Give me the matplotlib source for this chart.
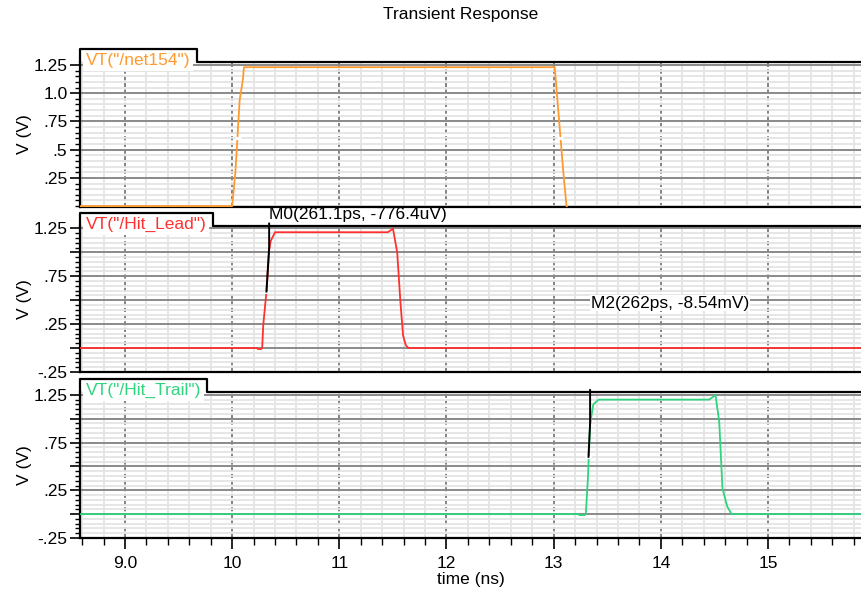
import matplotlib
matplotlib.use("Agg")
import matplotlib.pyplot as plt
from matplotlib.lines import Line2D
from matplotlib.ticker import MultipleLocator
import matplotlib.transforms as mtransforms

plt.rcParams['font.family'] = ['Liberation Sans', 'DejaVu Sans']

# ---- data (time in ns, voltage in V) ----
net154_t = [8.58, 10.00, 10.03, 10.05, 10.07, 10.10, 10.11, 13.01, 13.03,
            13.06, 13.09, 13.12, 13.14, 15.9]
net154_v = [0.0, 0.0, 0.30, 0.62, 0.94, 1.12, 1.23, 1.23, 1.00,
            0.65, 0.30, 0.0, -0.04, -0.04]

lead_t = [8.58, 10.23, 10.24, 10.27, 10.28, 10.29, 10.32, 10.345, 10.36,
          10.40, 11.45, 11.48, 11.50, 11.54, 11.57, 11.595, 11.62, 11.645, 15.9]
lead_v = [0.0, 0.0, -0.01, -0.01, 0.0, 0.24, 0.59, 1.02, 1.12,
          1.21, 1.21, 1.23, 1.25, 1.00, 0.48, 0.13, 0.03, 0.0, 0.0]

trail_t = [8.58, 13.23, 13.24, 13.29, 13.30, 13.32, 13.34, 13.37, 13.42,
           14.45, 14.49, 14.51, 14.545, 14.575, 14.62, 14.66, 15.9]
trail_v = [0.0, 0.0, -0.01, -0.01, 0.0, 0.38, 0.94, 1.15, 1.20,
           1.20, 1.23, 1.25, 0.97, 0.27, 0.08, 0.0, 0.0]

# marker traces (M0 on Hit_Lead, M2 on Hit_Trail)
m0_t = [10.32, 10.345, 10.345]
m0_v = [0.59, 1.05, 1.30]
m2_t = [13.325, 13.34, 13.34]
m2_v = [0.60, 0.95, 1.30]
m0_label = "M0(261.1ps, -776.4uV)"
m2_label = "M2(262ps, -8.54mV)"

# 50% crossing points shown as small white gaps
cross_net154 = ([10.05, 13.06], [0.60, 0.60])
cross_lead = ([10.32], [0.59])
cross_trail = ([13.325], [0.60])

x_ticks = [9, 10, 11, 12, 13, 14, 15]
x_ticklabels = ["9.0", "10", "11", "12", "13", "14", "15"]

top_yticks = [0.25, 0.5, 0.75, 1.0, 1.25]
top_yticklabels = [".25", ".5", ".75", "1.0", "1.25"]
low_yticks = [-0.25, 0.0, 0.25, 0.5, 0.75, 1.0, 1.25]
low_yticklabels = ["-.25", "", ".25", "", ".75", "", "1.25"]

ORANGE = '#ff9a2e'
RED = '#ff3030'
GREEN = '#2ed47e'
FS = 12.5

W, H = 861, 590
fig = plt.figure(figsize=(W / 100, H / 100), dpi=100)


def px_axes(top, bottom, left=80, right=861):
    # axes rectangle from pixel edges (y measured from the top)
    return [left / W, 1 - bottom / H, (right - left) / W, (bottom - top) / H]


ax_top = fig.add_axes(px_axes(62, 207))
ax_mid = fig.add_axes(px_axes(226, 372))
ax_bot = fig.add_axes(px_axes(392, 538))

panels = [
    (ax_top, net154_t, net154_v, ORANGE, 'VT("/net154")', (-0.008, 1.276),
     top_yticks, top_yticklabels, cross_net154),
    (ax_mid, lead_t, lead_v, RED, 'VT("/Hit_Lead")', (-0.25, 1.275),
     low_yticks, low_yticklabels, cross_lead),
    (ax_bot, trail_t, trail_v, GREEN, 'VT("/Hit_Trail")', (-0.25, 1.28),
     low_yticks, low_yticklabels, cross_trail),
]

labels = []
for ax, t, v, color, name, ylim, yt, ytl, cross in panels:
    ax.set_xlim(8.58, 15.868)
    ax.set_ylim(*ylim)
    ax.set_xticks(x_ticks)
    ax.xaxis.set_minor_locator(MultipleLocator(0.2))
    ax.set_yticks(yt)
    ax.set_yticklabels(ytl, fontsize=FS)
    ax.yaxis.set_minor_locator(MultipleLocator(0.05))

    # grid: light minor lines, dark major lines (dashed verticals)
    ax.grid(which='minor', axis='both', color='#e4e4e4', lw=1.3, zorder=0)
    ax.grid(which='major', axis='y', color='#8a8a8a', lw=1.4, zorder=0.5)
    ax.grid(which='major', axis='x', color='#6e6e6e', lw=1.2,
            linestyle=(0, (2.5, 1.5)), zorder=0.5)
    ax.set_axisbelow(True)

    ax.plot(t, v, color=color, lw=1.3, zorder=3)
    ax.plot(cross[0], cross[1], linestyle='none', marker='_', ms=5,
            mew=2.2, color='white', zorder=4)

    for side in ('top', 'right'):
        ax.spines[side].set_visible(False)
    for side in ('left', 'bottom'):
        ax.spines[side].set_linewidth(1.6)
        ax.spines[side].set_color('black')

    ax.tick_params(axis='y', which='major', direction='out', length=7,
                   width=1.2, pad=2)
    ax.tick_params(axis='y', which='minor', direction='out', length=3.5,
                   width=1.0)
    ax.set_ylabel("V (V)", fontsize=FS)
    ax.yaxis.set_label_coords(-48 / (W - 80), 0.5)

    txt_tf = mtransforms.offset_copy(ax.transAxes, fig=fig, x=6, y=-3,
                                     units='dots')
    lab = ax.text(0, 1, name, transform=txt_tf, color=color, fontsize=FS,
                  ha='left', va='baseline', zorder=6,
                  bbox=dict(boxstyle='square,pad=0.15', fc='white',
                            ec='none'))
    labels.append((ax, lab))

for ax in (ax_top, ax_mid):
    ax.tick_params(axis='x', which='both', bottom=False, labelbottom=False)

ax_bot.set_xticklabels(x_ticklabels, fontsize=FS)
ax_bot.tick_params(axis='x', which='major', direction='out', length=8,
                   width=1.2, pad=5)
ax_bot.tick_params(axis='x', which='minor', direction='out', length=5,
                   width=1.0)
ax_bot.set_xlabel("time (ns)", fontsize=FS, labelpad=1)

# markers
ax_mid.plot(m0_t, m0_v, color='black', lw=1.4, zorder=5, clip_on=False)
ax_bot.plot(m2_t, m2_v, color='black', lw=1.4, zorder=5, clip_on=False)
m0_tf = mtransforms.blended_transform_factory(ax_mid.transData,
                                              ax_mid.transAxes)
m0_tf = mtransforms.offset_copy(m0_tf, fig=fig, x=0, y=4, units='dots')
ax_mid.text(10.345, 1.0, m0_label, transform=m0_tf, fontsize=FS,
            ha='left', va='bottom', zorder=7)
ax_mid.text(13.345, 0.47, m2_label, fontsize=FS, ha='left', va='center',
            zorder=7, bbox=dict(boxstyle='square,pad=0.05', fc='white',
                                ec='none'))

fig.text(461 / W, 1 - 15 / H, "Transient Response", fontsize=FS,
         ha='center', va='center')

# header tabs: left spine goes up, across, down, then the top border
fig.canvas.draw()
inv = fig.transFigure.inverted()
for ax, lab in labels:
    bb = lab.get_window_extent()
    x0, x1 = ax.bbox.x0, ax.bbox.x1
    y1 = ax.bbox.y1
    xr = bb.x1 + 6
    pts = [(x0, y1), (x0, y1 + 13.5), (xr, y1 + 13.5), (xr, y1), (x1, y1)]
    fpts = inv.transform(pts)
    fig.add_artist(Line2D(fpts[:, 0], fpts[:, 1], color='black', lw=1.6,
                          transform=fig.transFigure, zorder=8))

fig.savefig("out.png", dpi=100)
